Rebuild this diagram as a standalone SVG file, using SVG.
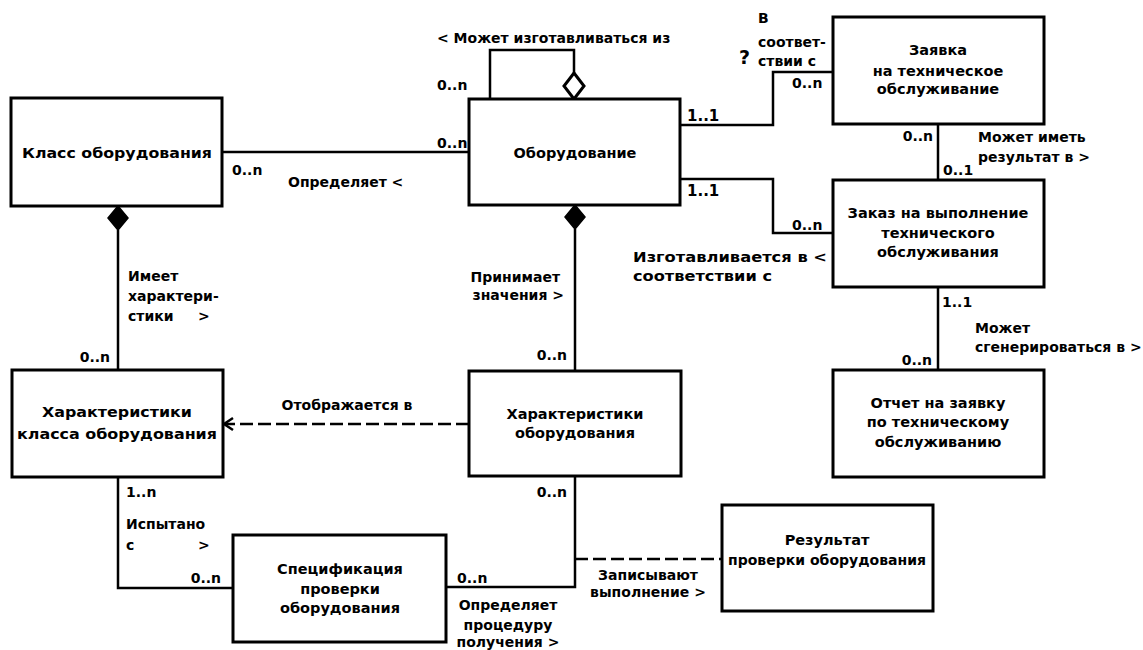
<svg xmlns="http://www.w3.org/2000/svg" width="1143" height="650" viewBox="0 0 1143 650">
<style>
.box{fill:#fff;stroke:#000;stroke-width:3}
.ln{fill:none;stroke:#000;stroke-width:2.5}
.dash{stroke-dasharray:13 5}
.nt{font-family:"DejaVu Sans","Liberation Sans",sans-serif;font-weight:bold;font-size:14.5px;text-anchor:middle;fill:#000}
.lb{font-family:"DejaVu Sans","Liberation Sans",sans-serif;font-weight:bold;font-size:14px;fill:#000}
.end{text-anchor:end}
.mid{text-anchor:middle}
.fd{fill:#000;stroke:#000;stroke-width:1.5}
.hd{fill:#fff;stroke:#000;stroke-width:3}
</style>
<rect width="1143" height="650" fill="#fff"/>

<g id="connectors">
  <line class="ln" x1="222" y1="152" x2="469" y2="152"/>
  <polyline class="ln" points="490,99 490,50 574,50 574,73"/>
  <polygon class="hd" points="574,73 584,86 574,99 564,86"/>
  <polyline class="ln" points="680,125 773,125 773,72 833,72"/>
  <polyline class="ln" points="680,179 773,179 773,233 833,233"/>
  <line class="ln" x1="938" y1="124" x2="938" y2="180"/>
  <line class="ln" x1="938" y1="287" x2="938" y2="370"/>
  <line class="ln" x1="118" y1="230" x2="118" y2="370"/>
  <polygon class="fd" points="118,206 128,218 118,230 108,218"/>
  <line class="ln" x1="575" y1="229" x2="575" y2="371"/>
  <polygon class="fd" points="575,205 585,217 575,229 565,217"/>
  <line class="ln dash" x1="469" y1="424" x2="225" y2="424"/>
  <polyline class="ln" points="233,418 224,424 233,430"/>
  <polyline class="ln" points="118,477 118,588 233,588"/>
  <polyline class="ln" points="575,476 575,587 446,587"/>
  <line class="ln dash" x1="575" y1="559" x2="722" y2="559"/>

  <text class="lb" x="437" y="43">&lt; Может изготавливаться из</text>
  <text class="lb" x="437" y="90">0..n</text>
  <text class="lb" x="437" y="148">0..n</text>
  <text class="lb" x="232" y="175">0..n</text>
  <text class="lb" x="288" y="187">Определяет &lt;</text>
  <text class="lb" x="758" y="23">В</text>
  <text class="lb" x="758" y="47">соответ-</text>
  <text class="lb" x="758" y="66">ствии с</text>
  <text class="lb" x="739" y="64" style="font-size:19px">?</text>
  <text class="lb" x="792" y="88">0..n</text>
  <text class="lb" x="687" y="121" style="font-size:15px">1..1</text>
  <text class="lb" x="687" y="196" style="font-size:15px">1..1</text>
  <text class="lb" x="792" y="230">0..n</text>
  <text class="lb" x="633" y="262" textLength="194" lengthAdjust="spacingAndGlyphs">Изготавливается в &lt;</text>
  <text class="lb" x="633" y="281" textLength="139" lengthAdjust="spacingAndGlyphs">соответствии с</text>
  <text class="lb" x="978" y="142">Может иметь</text>
  <text class="lb" x="978" y="162">результат в &gt;</text>
  <text class="lb end" x="933" y="141">0..n</text>
  <text class="lb" x="943" y="175">0..1</text>
  <text class="lb" x="942" y="307">1..1</text>
  <text class="lb" x="975" y="333">Может</text>
  <text class="lb" x="975" y="352">сгенерироваться в &gt;</text>
  <text class="lb end" x="932" y="365">0..n</text>
  <text class="lb" x="128" y="281">Имеет</text>
  <text class="lb" x="128" y="301">характери-</text>
  <text class="lb" x="128" y="321">стики</text>
  <text class="lb" x="198" y="321">&gt;</text>
  <text class="lb end" x="110" y="362">0..n</text>
  <text class="lb end" x="560" y="282">Принимает</text>
  <text class="lb end" x="564" y="300">значения &gt;</text>
  <text class="lb end" x="567" y="360">0..n</text>
  <text class="lb mid" x="347" y="410">Отображается в</text>
  <text class="lb end" x="567" y="497">0..n</text>
  <text class="lb" x="126" y="497">1..n</text>
  <text class="lb" x="126" y="529">Испытано</text>
  <text class="lb" x="126" y="550">с</text>
  <text class="lb" x="198" y="550">&gt;</text>
  <text class="lb end" x="221" y="583">0..n</text>
  <text class="lb" x="457" y="583">0..n</text>
  <text class="lb mid" x="508" y="610">Определяет</text>
  <text class="lb mid" x="508" y="630">процедуру</text>
  <text class="lb mid" x="508" y="647">получения &gt;</text>
  <text class="lb mid" x="648" y="580">Записывают</text>
  <text class="lb mid" x="648" y="597">выполнение &gt;</text>
</g>

<g id="node-klass">
  <rect class="box" x="11" y="98" width="211" height="108"/>
  <text class="nt" x="117" y="158" textLength="190" lengthAdjust="spacingAndGlyphs">Класс оборудования</text>
</g>
<g id="node-oborudovanie">
  <rect class="box" x="469" y="99" width="211" height="106"/>
  <text class="nt" x="575" y="158">Оборудование</text>
</g>
<g id="node-zayavka">
  <rect class="box" x="833" y="17" width="211" height="107"/>
  <text class="nt" x="938" y="55">Заявка</text>
  <text class="nt" x="938" y="76">на техническое</text>
  <text class="nt" x="938" y="94">обслуживание</text>
</g>
<g id="node-zakaz">
  <rect class="box" x="833" y="180" width="211" height="107"/>
  <text class="nt" x="938" y="218">Заказ на выполнение</text>
  <text class="nt" x="938" y="238">технического</text>
  <text class="nt" x="938" y="257">обслуживания</text>
</g>
<g id="node-har-klassa">
  <rect class="box" x="12" y="370" width="211" height="107"/>
  <text class="nt" x="117" y="417" textLength="150" lengthAdjust="spacingAndGlyphs">Характеристики</text>
  <text class="nt" x="117" y="439" textLength="200" lengthAdjust="spacingAndGlyphs">класса оборудования</text>
</g>
<g id="node-har-oborudovaniya">
  <rect class="box" x="469" y="371" width="212" height="105"/>
  <text class="nt" x="575" y="419">Характеристики</text>
  <text class="nt" x="575" y="438">оборудования</text>
</g>
<g id="node-otchet">
  <rect class="box" x="833" y="370" width="211" height="107"/>
  <text class="nt" x="938" y="408">Отчет на заявку</text>
  <text class="nt" x="938" y="427">по техническому</text>
  <text class="nt" x="938" y="447">обслуживанию</text>
</g>
<g id="node-specifikaciya">
  <rect class="box" x="233" y="535" width="213" height="107"/>
  <text class="nt" x="340" y="574">Спецификация</text>
  <text class="nt" x="340" y="594">проверки</text>
  <text class="nt" x="340" y="613">оборудования</text>
</g>
<g id="node-rezultat">
  <rect class="box" x="722" y="505" width="211" height="106"/>
  <text class="nt" x="827" y="545">Результат</text>
  <text class="nt" x="827" y="565" textLength="198" lengthAdjust="spacingAndGlyphs">проверки оборудования</text>
</g>
</svg>
